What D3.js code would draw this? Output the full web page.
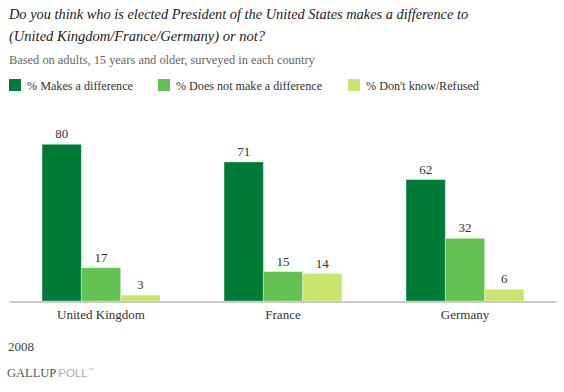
<!DOCTYPE html>
<html><head><meta charset="utf-8">
<script src="https://cdn.jsdelivr.net/npm/d3@7"></script>
<style>
body{margin:0;background:#fff;}
svg{display:block;}
</style></head>
<body>
<svg id="c" width="564" height="392"></svg>
<script>
const categories = ["United Kingdom","France","Germany"];
const seriesNames = ["% Makes a difference","% Does not make a difference","% Don't know/Refused"];
const makesDifference = [80,71,62];
const noDifference = [17,15,32];
const dontKnow = [3,14,6];
const colors = ["#007a37","#62c152","#c8e66e"];
const titleLines = ["Do you think who is elected President of the United States makes a difference to","(United Kingdom/France/Germany) or not?"];
const subtitle = "Based on adults, 15 years and older, surveyed in each country";
const yearLabel = "2008";

const SERIF = "'Liberation Serif', 'Times New Roman', serif";
const SANS = "'Liberation Sans', Arial, sans-serif";
const series = [makesDifference, noDifference, dontKnow];
const svg = d3.select("#c");

function fit(sel, w){
  const n = sel.node();
  const l = n.getComputedTextLength();
  const fs = parseFloat(sel.style("font-size"));
  const nf = fs*w/l;
  sel.style("font-size", nf.toFixed(2)+"px");
  return nf;
}
function txt(x,yy,size,fill,s){
  return svg.append("text").attr("x",x).attr("y",yy)
    .style("font-family",SERIF).style("font-size",size+"px").attr("fill",fill).text(s);
}

// Title
const t1 = txt(9,19,15,"#222",titleLines[0]).style("font-style","italic");
fit(t1,459);
const t2 = txt(9,40.5,15,"#222",titleLines[1]).style("font-style","italic");
fit(t2,256);
const st = txt(9,64,13,"#666",subtitle);
fit(st,306);

// Legend
const legX = [9,158,348];
const legW = [106,146,113];
seriesNames.forEach((s,i)=>{
  svg.append("rect").attr("x",legX[i]).attr("y",79).attr("width",12).attr("height",12).attr("fill",colors[i]);
  const lt = txt(legX[i]+18,89.5,13,"#333",s);
  fit(lt, legW[i]);
});

// Scales
const x0 = d3.scaleBand().domain(categories).range([10,556]).paddingInner(0.352).paddingOuter(0.176);
const x1 = d3.scaleBand().domain(d3.range(3)).range([0,x0.bandwidth()]);
const y = d3.scaleLinear().domain([0,80]).range([301,144.3]);

const g = svg.append("g");
categories.forEach((c,ci)=>{
  series.forEach((vals,si)=>{
    const v = vals[ci];
    g.append("rect")
      .attr("x", x0(c)+x1(si))
      .attr("y", y(v))
      .attr("width", x1.bandwidth())
      .attr("height", y(0)-y(v))
      .attr("fill", colors[si])
      .attr("stroke","rgba(255,255,255,0.35)")
      .attr("stroke-width",1);
    g.append("text")
      .attr("x", x0(c)+x1(si)+x1.bandwidth()/2)
      .attr("y", y(v)-6)
      .attr("text-anchor","middle")
      .style("font-family",SERIF)
      .style("font-size","13px")
      .attr("fill","#333")
      .text(v);
  });
});

// Baseline axis
svg.append("line").attr("x1",10).attr("x2",557).attr("y1",y(0)+1).attr("y2",y(0)+1).attr("stroke","#ccccc4").attr("stroke-width",2);

// Category axis labels
const xAxis = d3.axisBottom(x0).tickSize(0).tickPadding(8);
const ax = svg.append("g").attr("transform",`translate(0,${y(0)+1})`).call(xAxis);
ax.select(".domain").remove();
ax.selectAll("text").style("font-family",SERIF).style("font-size","13px").attr("fill","#333");
const ukLabel = ax.selectAll("text").filter(d=>d===categories[0]);
const catSize = fit(ukLabel, 88);
ax.selectAll("text").style("font-size", catSize.toFixed(2)+"px");

// Footer
txt(8,351,13,"#444",yearLabel);
const gp = svg.append("text").attr("x",7).attr("y",377).style("font-size","12.5px");
gp.append("tspan").attr("fill","#555").style("font-family",SERIF).text("GALLUP");
gp.append("tspan").attr("fill","#aaa").style("font-family",SANS).style("font-size","11.5px").attr("dx",2).text("POLL");
gp.append("tspan").attr("fill","#bbb").style("font-family",SANS).style("font-size","6px").attr("dy",-5).text("™");
</script>
</body></html>
